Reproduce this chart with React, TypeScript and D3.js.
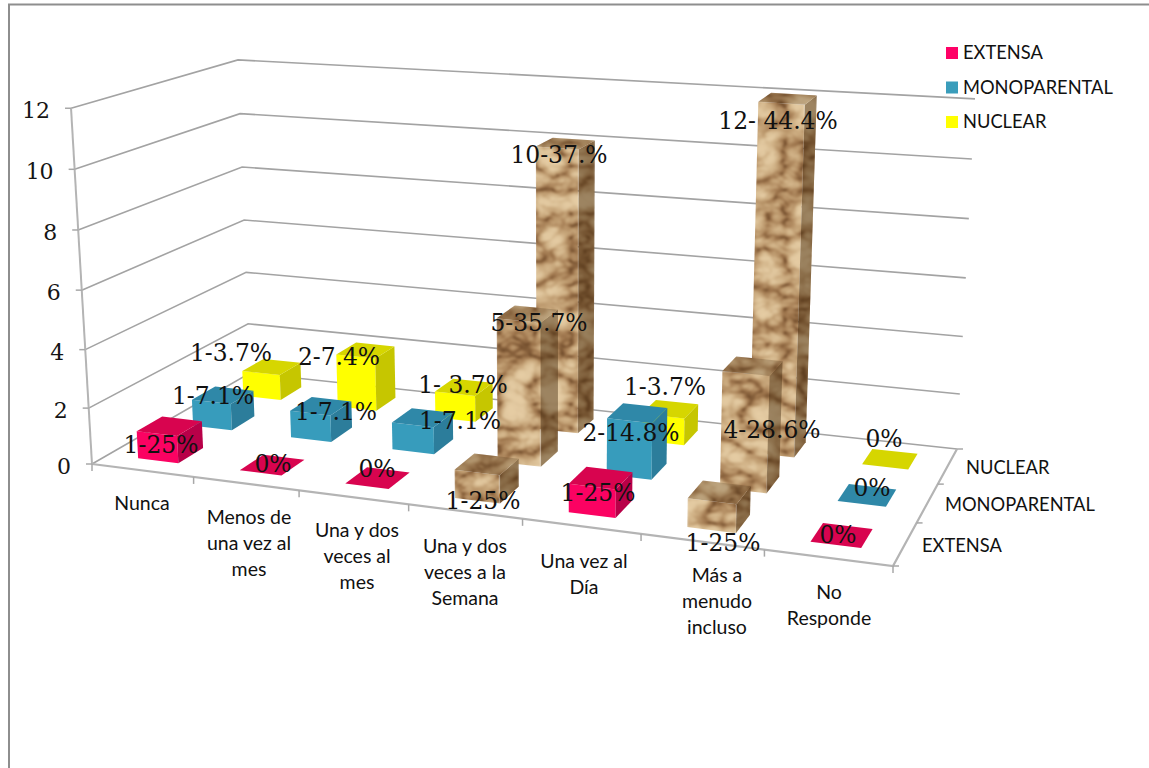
import React from "react";
import * as d3 from "d3";

// ---------- data ----------
const categories = ["Nunca", "Menos de una vez al mes", "Una y dos veces al mes", "Una y dos veces a la Semana", "Una vez al Día", "Más a menudo incluso", "No Responde"];
const seriesNames = ["EXTENSA", "MONOPARENTAL", "NUCLEAR"];
const extensa = [1, 0, 0, 1, 1, 1, 0];
const monoparental = [1, 1, 1, 5, 2, 4, 0];
const nuclear = [1, 2, 1, 10, 1, 12, 0];
const yTicks = [0, 2, 4, 6, 8, 10, 12];
const extensaLabels = ["1-25%", "0%", "0%", "1-25%", "1-25%", "1-25%", "0%"];
const monoLabels = ["1-7.1%", "1-7.1%", "1-7.1%", "5-35.7%", "2-14.8%", "4-28.6%", "0%"];
const nuclearLabels = ["1-3.7%", "2-7.4%", "1- 3.7%", "10-37.%", "1-3.7%", "12- 44.4%", "0%"];
const textured = [3, 5]; // columns drawn with the stone fill

// ---------- layout (not data) ----------
const floor = { fl: [92, 464], fr: [893, 566], br: [957, 449], bl: [250, 373] };
const vanish = [554, 8300]; // where the verticals of the 3D box converge
const growth = { fl: 0.0454, fr: 0.05, br: 0.0446, bl: 0.0395 };
const categoryLines = [
  { x: 142, y: 503, lines: ["Nunca"] },
  { x: 249, y: 517, lines: ["Menos de", "una vez al", "mes"] },
  { x: 357, y: 530, lines: ["Una y dos", "veces al", "mes"] },
  { x: 465, y: 546, lines: ["Una y dos", "veces a la", "Semana"] },
  { x: 584, y: 561, lines: ["Una vez al", "Día"] },
  { x: 717, y: 575, lines: ["Más a", "menudo", "incluso"] },
  { x: 829, y: 592, lines: ["No", "Responde"] },
];
const depthLabelPos = [[922, 545], [945, 504], [966, 467]];
const labelCentres = [
  [[161, 445], [273, 464], [377, 469], [483, 501], [598, 493], [723, 543], [838, 535]],
  [[213, 396], [336, 412], [460, 421], [539, 323], [631, 433], [772, 430], [872, 488]],
  [[231, 353], [339, 357], [463, 385], [559, 155], [665, 387], [778, 121], [884, 439]],
];
const palette = [
  { front: "#fb0262", top: "#d8044f", side: "#b80048" },
  { front: "#379cbc", top: "#2f88a8", side: "#2c7d9b" },
  { front: "#ffff00", top: "#d6d600", side: "#c6c600" },
];
const legendColours = ["#ff0066", "#3a9dbb", "#ffff00"];
const grid = "#a3a3a3";

// ---------- projection ----------
type Pt = number[];
function quad(p00: Pt, p10: Pt, p11: Pt, p01: Pt) {
  const [x0, y0] = p00, [x1, y1] = p10, [x2, y2] = p11, [x3, y3] = p01;
  const dx1 = x1 - x2, dx2 = x3 - x2, sx = x0 - x1 + x2 - x3;
  const dy1 = y1 - y2, dy2 = y3 - y2, sy = y0 - y1 + y2 - y3;
  const det = dx1 * dy2 - dx2 * dy1;
  const g = (sx * dy2 - dx2 * sy) / det, h = (dx1 * sy - sx * dy1) / det;
  const a = x1 - x0 + g * x1, b = x3 - x0 + h * x3, d = y1 - y0 + g * y1, e = y3 - y0 + h * y3;
  return (u: number, v: number): Pt => {
    const w = g * u + h * v + 1;
    return [(a * u + b * v + x0) / w, (d * u + e * v + y0) / w];
  };
}
const floorMap = quad(floor.fl, floor.fr, floor.br, floor.bl);
const hScale = d3.scalePow().exponent(1.033).domain([0, 12]).range([0, 1]);
const project = (u: number, v: number, val: number): Pt => {
  const a = floorMap(u, v), t = hScale(val);
  const K = (1 - v) * ((1 - u) * growth.fl + u * growth.fr) + v * ((1 - u) * growth.bl + u * growth.br);
  const k = 1 + t * K;
  return [vanish[0] + (a[0] - vanish[0]) * k, vanish[1] + (a[1] - vanish[1]) * k];
};
const uBand = d3.scaleBand<number>().domain(d3.range(7)).range([0, 1]).paddingInner(0.6).paddingOuter(0.3);
const vBand = d3.scaleBand<number>().domain(d3.range(3)).range([0, 1]).paddingInner(0.55).paddingOuter(0.275);
const line = d3.line<Pt>();
const poly = (pts: Pt[]) => line(pts) + "Z";

const seriesValues = [extensa, monoparental, nuclear];
const seriesLabels = [extensaLabels, monoLabels, nuclearLabels];

function Column({ c, s, value }: { c: number; s: number; value: number }) {
  const u0 = uBand(c)!, u1 = u0 + uBand.bandwidth();
  const v0 = vBand(s)!, v1 = v0 + vBand.bandwidth();
  const col = palette[s];
  const base = Math.max(value, 0.03);
  const topFace = [project(u0, v0, base), project(u1, v0, base), project(u1, v1, base), project(u0, v1, base)];
  if (value === 0) return <path d={poly(topFace)} fill={col.top} />;
  const front = [project(u0, v0, 0), project(u1, v0, 0), project(u1, v0, value), project(u0, v0, value)];
  const side = [project(u1, v0, 0), project(u1, v1, 0), project(u1, v1, value), project(u1, v0, value)];
  if (textured.includes(c)) {
    return (
      <g>
        <path d={poly(front)} fill="#000" filter="url(#stone)" />
        <path d={poly(side)} fill="#000" filter="url(#stone)" />
        <path d={poly(side)} fill="#3a2208" fillOpacity={0.42} />
        <path d={poly(topFace)} fill="#000" filter="url(#stone)" />
        <path d={poly(topFace)} fill="#4a3418" fillOpacity={0.25} />
      </g>
    );
  }
  return (
    <g>
      <path d={poly(front)} fill={col.front} />
      <path d={poly(side)} fill={col.side} />
      <path d={poly(topFace)} fill={col.top} />
    </g>
  );
}

export default function App() {
  const latin = "Lato, 'Open Sans', sans-serif";
  const serif = "'DejaVu Serif', serif";
  return (
    <svg width={1149} height={768} style={{ position: "absolute", left: 0, top: 0, background: "#fff" }}>
      <defs>
        <filter id="stone" x="0" y="0" width="1" height="1" colorInterpolationFilters="sRGB">
          <feTurbulence type="turbulence" baseFrequency="0.028 0.042" numOctaves={3} seed={23} />
          <feColorMatrix values="1.5 0 0 0 0  1.5 0 0 0 0  1.5 0 0 0 0  0 0 0 0 1" />
          <feComponentTransfer>
            <feFuncR type="table" tableValues="0.40 0.62 0.74 0.82 0.88 0.90" />
            <feFuncG type="table" tableValues="0.26 0.46 0.60 0.70 0.78 0.80" />
            <feFuncB type="table" tableValues="0.14 0.30 0.43 0.53 0.62 0.64" />
          </feComponentTransfer>
          <feGaussianBlur stdDeviation="1" />
          <feComposite operator="in" in2="SourceGraphic" />
        </filter>
      </defs>

      {/* frame */}
      <path d="M9,768V4.5H1149" fill="none" stroke="#8e8e8e" strokeWidth={2} />

      {/* grid lines on both walls */}
      {yTicks.map((t) => (
        <path key={t} d={line([project(0, 0, t), project(0, 1, t), project(1, 1, t)])!} fill="none" stroke={grid} strokeWidth={1.6} />
      ))}

      {/* axes */}
      <path d={line([project(0, 0, 0), project(0, 0, 12)])!} stroke="#b4b4b4" strokeWidth={2} fill="none" />
      <path d={line([project(0, 0, 0), project(1, 0, 0), project(1, 1, 0)])!} stroke="#b4b4b4" strokeWidth={2.2} fill="none" />
      {yTicks.map((t) => {
        const [x, y] = project(0, 0, t);
        return (
          <g key={t}>
            <line x1={x - 6} x2={x} y1={y} y2={y} stroke="#a8a8a8" strokeWidth={1.5} />
            <text x={x - 21} y={y + 10} textAnchor="end" fontFamily={serif} fontSize={22} fill="#151515">{t}</text>
          </g>
        );
      })}
      {d3.range(8).map((i) => {
        const [x, y] = project(i / 7, 0, 0);
        return <line key={i} x1={x} x2={x} y1={y} y2={y + 7} stroke="#a8a8a8" strokeWidth={1.5} />;
      })}
      {d3.range(4).map((i) => {
        const [x, y] = project(1, i / 3, 0);
        return <line key={i} x1={x} x2={x + 6} y1={y} y2={y} stroke="#a8a8a8" strokeWidth={1.5} />;
      })}

      {/* columns, back row first */}
      {[2, 1, 0].map((s) =>
        categories.map((_, c) => <Column key={`${s}-${c}`} c={c} s={s} value={seriesValues[s][c]} />)
      )}

      {/* category labels */}
      {categoryLines.map((cat, i) => (
        <text key={i} textAnchor="middle" fontFamily={latin} fontSize={19.5} fill="#111">
          {cat.lines.map((l, j) => (
            <tspan key={j} x={cat.x} y={cat.y + j * 26 + 7}>{l}</tspan>
          ))}
        </text>
      ))}

      {/* depth labels */}
      {seriesNames.map((n, i) => (
        <text key={n} x={depthLabelPos[i][0]} y={depthLabelPos[i][1] + 7} fontFamily={latin} fontSize={18.3} fill="#111">{n}</text>
      ))}

      {/* data labels */}
      {seriesLabels.map((labels, s) =>
        labels.map((l, c) => (
          <text key={`${s}-${c}`} x={labelCentres[s][c][0]} y={labelCentres[s][c][1] + 8} textAnchor="middle" fontFamily={serif} fontSize={23.4} fill="#111" style={{ whiteSpace: "pre" }}>{l}</text>
        ))
      )}

      {/* legend */}
      {seriesNames.map((n, i) => (
        <g key={n}>
          <rect x={946} y={47 + i * 34.5} width={12} height={12} fill={legendColours[i]} />
          <text x={963} y={59 + i * 34.5} fontFamily={latin} fontSize={18.3} fill="#111">{n}</text>
        </g>
      ))}
    </svg>
  );
}
